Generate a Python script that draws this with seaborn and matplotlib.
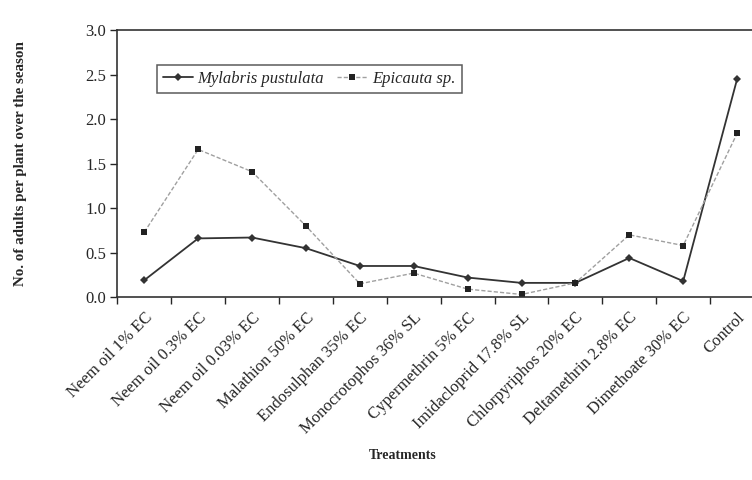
import numpy as np
import pandas as pd
import seaborn as sns
import matplotlib.pyplot as plt

treatments = ['Neem oil 1% EC', 'Neem oil 0.3% EC', 'Neem oil 0.03% EC',
              'Malathion 50% EC', 'Endosulphan 35% EC', 'Monocrotophos 36% SL',
              'Cypermethrin 5% EC', 'Imidacloprid 17.8% SL', 'Chlorpyriphos 20% EC',
              'Deltamethrin 2.8% EC', 'Dimethoate 30% EC', 'Control']
mylabris = [0.19, 0.66, 0.67, 0.55, 0.35, 0.35, 0.22, 0.16, 0.16, 0.44, 0.18, 2.45]
epicauta = [0.73, 1.66, 1.41, 0.80, 0.15, 0.27, 0.09, 0.03, 0.16, 0.70, 0.58, 1.84]

sns.set_style('white')
plt.rcParams['font.family'] = ['Liberation Serif', 'DejaVu Serif']

pos = np.arange(len(treatments))
fig = plt.figure(figsize=(7.52, 4.8), dpi=100)
ax = fig.add_axes([0.156, 0.381, 0.86, 0.556])

sns.lineplot(x=pos, y=mylabris, ax=ax, color='#333333', lw=1.3, marker='D',
             markersize=3.8, markeredgewidth=0, label='Mylabris pustulata')
sns.lineplot(x=pos, y=epicauta, ax=ax, color='#a0a0a0', lw=1.0, marker='s',
             markersize=5, markerfacecolor='#222222', markeredgewidth=0,
             dashes=False, label='Epicauta sp.')
ax.lines[1].set_dashes([3, 1.5])

ax.set_xlim(-0.5, -0.5 + 635 / 53.6)
ax.set_ylim(0, 3.0)
ax.set_yticks(np.arange(0, 3.01, 0.5))
ax.set_yticklabels([f'{v:.1f}' for v in np.arange(0, 3.01, 0.5)], fontsize=12)

# Excel-style ticks between categories
ax.set_xticks(pos)
ax.set_xticklabels(treatments, rotation=45, ha='right', rotation_mode='anchor', fontsize=12)
ax.tick_params(axis='x', which='major', length=0, pad=9)
ax.set_xticks(np.arange(-0.5, 11.6, 1), minor=True)
ax.tick_params(axis='x', which='minor', length=5, width=1, direction='out', bottom=True)
ax.tick_params(axis='y', length=5, width=1, direction='out', left=True, pad=3)

for s in ['left', 'bottom', 'top']:
    ax.spines[s].set_color('#333333')
    ax.spines[s].set_linewidth(1.2)
ax.spines['right'].set_visible(False)

ax.set_ylabel('No. of adults per plant over the season', fontsize=10.8, fontweight='bold')
ax.yaxis.set_label_coords(-0.14, 0.5)
fig.text(0.535, 0.043, 'Treatments', ha='center', fontsize=10, fontweight='bold')

leg = ax.legend(ncol=2, loc='upper left', bbox_to_anchor=(0.048, 0.9), fontsize=12,
                frameon=True, fancybox=False, edgecolor='#333333', handlelength=1.8,
                handletextpad=0.3, columnspacing=0.8, borderpad=0.35)
leg.get_frame().set_linewidth(1.1)
for t in leg.get_texts():
    t.set_fontstyle('italic')

fig.savefig('out.png', dpi=100)
